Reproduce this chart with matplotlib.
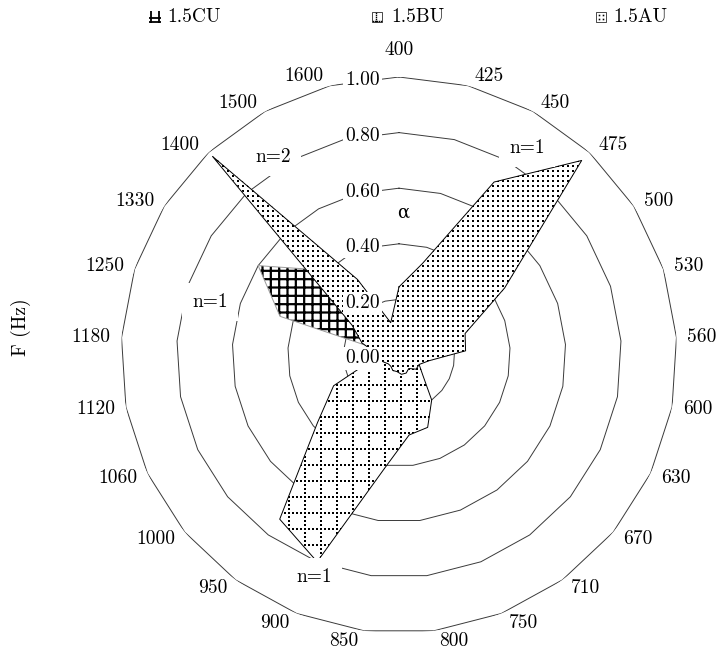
import numpy as np
import matplotlib
matplotlib.use("Agg")
import matplotlib.pyplot as plt
import matplotlib.transforms as mtransforms
from matplotlib.lines import Line2D
from matplotlib.patches import Rectangle

plt.rcParams["font.family"] = "cmr10"
plt.rcParams["mathtext.fontset"] = "cm"
plt.rcParams["axes.formatter.use_mathtext"] = True

# ---- data -------------------------------------------------------------
freqs = ["400", "425", "450", "475", "500", "530", "560", "600", "630",
         "670", "710", "750", "800", "850", "900", "950", "1000", "1060",
         "1120", "1180", "1250", "1330", "1400", "1500", "1600"]

cu = [0.00, 0.00, 0.00, 0.00, 0.00, 0.00, 0.00, 0.00, 0.00,
      0.00, 0.00, 0.00, 0.00, 0.00, 0.00, 0.00, 0.00, 0.00,
      0.00, 0.02, 0.45, 0.60, 0.42, 0.05, 0.00]

bu = [0.03, 0.03, 0.03, 0.03, 0.03, 0.03, 0.03, 0.05, 0.08,
      0.11, 0.20, 0.28, 0.29, 0.41, 0.80, 0.73, 0.38, 0.26,
      0.10, 0.05, 0.03, 0.03, 0.03, 0.03, 0.03]

au = [0.245, 0.34, 0.71, 0.96, 0.45, 0.25, 0.24, 0.11, 0.08,
      0.08, 0.06, 0.07, 0.07, 0.06, 0.06, 0.05, 0.05, 0.06,
      0.08, 0.08, 0.14, 0.20, 0.98, 0.31, 0.12]

series_names = ["1.5CU", "1.5BU", "1.5AU"]
ring_values = [0.0, 0.2, 0.4, 0.6, 0.8, 1.0]
ring_labels = ["0.00", "0.20", "0.40", "0.60", "0.80", "1.00"]
peak_notes = [("n=1", 527, 148), ("n=2", 273, 157), ("n=1", 210, 302), ("n=1", 314, 577)]

# ---- layout -----------------------------------------------------------
W, H, DPI = 717, 653, 100
CX, CY, R = 399, 355, 278          # centre and outer radius in pixels
FS = 14

fig = plt.figure(figsize=(W / DPI, H / DPI), dpi=DPI)
ax = fig.add_axes([(CX - R) / W, (H - CY - R) / H, 2 * R / W, 2 * R / H],
                  projection="polar")
ax.set_theta_zero_location("N")
ax.set_theta_direction(-1)
ax.set_ylim(0, 1)
ax.axis("off")

n = len(freqs)
theta = 2 * np.pi * np.arange(n) / n
theta_c = np.append(theta, theta[0])

# polygonal rings
for rv in ring_values[1:]:
    ax.plot(theta_c, np.full(n + 1, rv), color="#3a3a3a", lw=0.7, zorder=1)

ident = mtransforms.IdentityTransform()
DOT = 2.0 * 72 / DPI          # 2-pixel square dots, in points


def dot_field(x0, x1, y0, y1, step):
    xs = np.arange(x0, x1, step)
    ys = np.arange(y0, y1, step)
    gx, gy = np.meshgrid(xs, ys)
    return gx.ravel(), gy.ravel()


def dotted_grid(x0, x1, y0, y1, spacing, dstep):
    pts = []
    for gx in np.arange(x0, x1, spacing):
        for gy in np.arange(y0, y1, dstep):
            pts.append((gx, gy))
    for gy in np.arange(y0, y1, spacing):
        for gx in np.arange(x0, x1, dstep):
            pts.append((gx, gy))
    pts = np.array(pts)
    return pts[:, 0], pts[:, 1]


X0, X1 = CX - R - 8, CX + R + 8
Y0, Y1 = H - CY - R - 8, H - CY + R + 8


def add_series(values, kind, edge, z):
    r = np.append(values, values[0])
    base = ax.fill(theta_c, r, facecolor="white", edgecolor="none", zorder=z)[0]
    if kind == "grid":
        plt.rcParams["hatch.linewidth"] = 1.6
        hp = ax.fill(theta_c, r, facecolor="none", edgecolor="black", lw=0,
                     hatch="++", zorder=z + 0.1)[0]
        if hasattr(hp, "set_hatch_linewidth"):
            hp.set_hatch_linewidth(1.6)
    else:
        if kind == "dotgrid":
            gx, gy = dotted_grid(X0, X1, Y0, Y1, 16, 4)
        else:
            gx, gy = dot_field(X0, X1, Y0, Y1, 5)
        ln = ax.plot(gx, gy, ls="none", marker="s", ms=DOT, mew=0, color="black",
                     transform=ident, zorder=z + 0.1)[0]
        ln.set_clip_path(base)
    ax.plot(theta_c, r, color=edge, lw=0.7, zorder=z + 0.2)


add_series(cu, "grid", "#9a9a9a", 2)
add_series(bu, "dotgrid", "black", 3)
add_series(au, "dots", "black", 4)

# ring value labels, stacked just left of the vertical axis
for rv, lab in zip(ring_values, ring_labels):
    tr = ax.transData + mtransforms.ScaledTranslation(-19 / DPI, -3.5 / DPI, fig.dpi_scale_trans)
    ax.text(0, rv, lab, transform=tr, ha="right", va="center", fontsize=FS,
            bbox=dict(facecolor="white", edgecolor="none", pad=1.5), zorder=8)

# frequency labels around the outer ring
for i, lab in enumerate(freqs):
    phi = np.pi / 2 - theta[i]
    c, s = np.cos(phi), np.sin(phi)
    if abs(c) < 0.02:
        ha, ox, oy = "center", 0.0, 27.0 * np.sign(s)
    else:
        ha = "left" if c > 0 else "right"
        ox, oy = np.sign(c) * (5 + 6 * abs(c)), 10 * s
    ax.annotate(lab, xy=(theta[i], 1.0), xytext=(ox, oy), textcoords="offset pixels",
                ha=ha, va="center", fontsize=FS, annotation_clip=False, zorder=8)

# harmonic notes
for txt, x, y in peak_notes:
    fig.text(x / W, 1 - y / H, txt, ha="center", va="center", fontsize=FS,
             bbox=dict(facecolor="white", edgecolor="none", pad=7), zorder=9)

fig.text(403 / W, 1 - 213 / H, "α", ha="center", va="center", fontsize=13,
         family="DejaVu Serif")
fig.text(21 / W, 1 - 327 / H, "F (Hz)", rotation=90, ha="center", va="center", fontsize=FS)


# legend row, drawn in pixel coordinates
def seg(x0, y0, x1, y1, lw):
    fig.add_artist(Line2D([x0, x1], [H - y0, H - y1], transform=ident, color="black",
                          lw=lw, solid_capstyle="butt"))


def dots(xs, ys, size=2.0):
    fig.add_artist(Line2D(np.asarray(xs), H - np.asarray(ys), transform=ident,
                          ls="none", marker="s", ms=size * 72 / DPI, mew=0, color="black"))


legend_x = [155, 377, 601]
text_x = [167, 391, 613]
ly = 17
# CU: thick grid symbol
cx0 = legend_x[0]
seg(cx0 - 4, ly - 6, cx0 - 4, ly + 6, 1.3)
seg(cx0 + 4, ly - 6, cx0 + 4, ly + 6, 1.3)
seg(cx0 - 6, ly + 1, cx0 + 6, ly + 1, 1.3)
seg(cx0 - 6, ly + 5, cx0 + 6, ly + 5, 1.3)
# BU: dotted grid symbol
bx0 = legend_x[1]
fig.add_artist(Rectangle((bx0 - 5, H - ly - 5), 10, 10, transform=ident,
                         facecolor="white", edgecolor="black", lw=0.5))
dots([bx0 - 1] * 5, np.arange(ly - 4, ly + 6, 2), 1.4)
dots(np.arange(bx0 - 4, bx0 + 5, 2), [ly + 4] * 5, 1.4)
# AU: dots symbol
ax0 = legend_x[2]
fig.add_artist(Rectangle((ax0 - 5, H - ly - 5), 10, 10, transform=ident,
                         facecolor="white", edgecolor="black", lw=0.5))
dots([ax0 - 2, ax0 + 2, ax0 - 2, ax0 + 2], [ly - 2, ly - 2, ly + 2, ly + 2], 1.6)

for name, tx in zip(series_names, text_x):
    fig.text(tx / W, 1 - ly / H, name, ha="left", va="center", fontsize=FS)

fig.savefig("out.png", dpi=DPI)
